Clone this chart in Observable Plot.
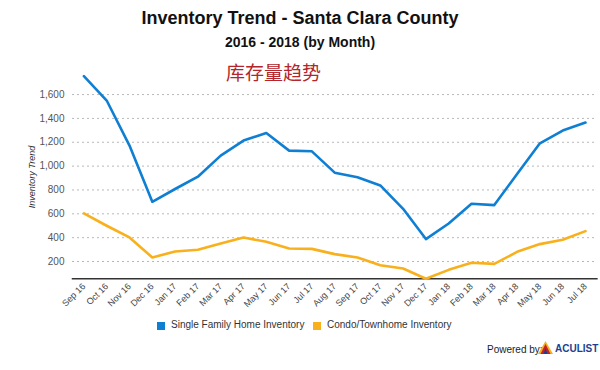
<!DOCTYPE html>
<html>
<head>
<meta charset="utf-8">
<script src="https://cdn.jsdelivr.net/npm/d3@7"></script>
<script src="https://cdn.jsdelivr.net/npm/@observablehq/plot@0.6"></script>
<style>
  html, body { margin: 0; padding: 0; background: #fff; }
  #wrap { position: relative; width: 600px; height: 370px; font-family: "Liberation Sans", Arial, sans-serif; overflow: hidden; }
  .abs { position: absolute; white-space: nowrap; }
  #title { left: 0; width: 600px; top: 8px; text-align: center; font-weight: bold; font-size: 18px; color: #111; }
  #subtitle { left: 0; width: 600px; top: 34px; text-align: center; font-weight: bold; font-size: 14px; color: #111; }
  #cn { left: 226px; top: 62px; font-family: "Noto Sans CJK SC", sans-serif; font-size: 19px; color: #b3262b; line-height: 1; }
  #ylabel { left: 32px; top: 177px; transform: translate(-50%, -50%) rotate(-90deg); font-style: italic; font-size: 9px; color: #333; }
  .sw { position: absolute; width: 8px; height: 8px; top: 322px; }
  .lt { position: absolute; top: 319px; font-size: 10px; color: #333; white-space: nowrap; }
  #powered { left: 487px; top: 344px; font-size: 10px; color: #222; }
  #logo { left: 538px; top: 341px; font-size: 10px; font-weight: bold; color: #1d3f91; }
  #chart { position: absolute; left: 0; top: 0; }
</style>
</head>
<body>
<div id="wrap">
  <div id="chart"></div>
  <div class="abs" id="title">Inventory Trend - Santa Clara County</div>
  <div class="abs" id="subtitle">2016 - 2018 (by Month)</div>
  <div class="abs" id="cn">库存量趋势</div>
  <div class="abs" id="ylabel">Inventory Trend</div>
  <div id="legend"></div>
  <div class="abs" id="powered">Powered by:</div>
  <div class="abs" id="logo"><svg width="15" height="13" viewBox="0 0 15 13" style="vertical-align:-2px;margin-right:2px"><polygon points="7.5,0 15,13 0,13" fill="#f2b01e"/><polygon points="7.5,3 12.5,13 2.5,13" fill="#c8202a"/><polygon points="7.5,7 9.5,13 5.5,13" fill="#1d3f91"/></svg>ACULIST</div>
</div>
<script>
const months = ["Sep 16","Oct 16","Nov 16","Dec 16","Jan 17","Feb 17","Mar 17","Apr 17","May 17","Jun 17","Jul 17","Aug 17","Sep 17","Oct 17","Nov 17","Dec 17","Jan 18","Feb 18","Mar 18","Apr 18","May 18","Jun 18","Jul 18"];
const singleFamily = [1754,1550,1172,701,808,911,1088,1214,1278,1130,1124,945,906,838,642,388,519,684,673,934,1191,1298,1365];
const condo = [603,500,402,234,284,298,351,402,365,309,306,262,234,169,141,55,130,189,180,281,346,382,455];
const seriesNames = ["Single Family Home Inventory","Condo/Townhome Inventory"];
const seriesColors = ["#0f7fd3","#f9b01d"];
const yTicks = [200,400,600,800,1000,1200,1400,1600];

const rows = [];
months.forEach((m, i) => {
  rows.push({i, month: m, value: singleFamily[i], series: seriesNames[0]});
  rows.push({i, month: m, value: condo[i], series: seriesNames[1]});
});
const yMin = d3.min(condo.concat(singleFamily));
const yMax = d3.max(condo.concat(singleFamily));

const chart = Plot.plot({
  width: 600,
  height: 370,
  marginLeft: 72,
  marginRight: 3.6,
  marginTop: 75.7,
  marginBottom: 91.7,
  style: {fontFamily: "Liberation Sans, Arial, sans-serif", background: "transparent", overflow: "visible"},
  x: {type: "linear", domain: [-0.5, months.length - 0.5]},
  y: {domain: [yMin, yMax]},
  color: {domain: seriesNames, range: seriesColors},
  marks: [
    Plot.gridY(yTicks, {stroke: "#b8b8b8", strokeOpacity: 1, strokeDasharray: "2,3", strokeWidth: 1}),
    Plot.axisY(yTicks, {tickSize: 0, tickPadding: 8, tickFormat: d3.format(","), fontSize: 10, fill: "#555", label: null}),
    Plot.axisX(d3.range(months.length), {tickSize: 0, tickPadding: 6, tickRotate: -45, tickFormat: i => months[i], fontSize: 9, fill: "#444", label: null}),
    Plot.frame({anchor: "bottom", stroke: "#333", strokeWidth: 1.5}),
    Plot.line(rows, {x: "i", y: "value", stroke: "series", z: "series", strokeWidth: 2.6, strokeLinejoin: "round"})
  ]
});
document.getElementById("chart").appendChild(chart);

const legend = document.getElementById("legend");
const legendX = [157, 313];
seriesNames.forEach((n, k) => {
  const sw = document.createElement("div");
  sw.className = "sw";
  sw.style.left = legendX[k] + "px";
  sw.style.background = seriesColors[k];
  legend.appendChild(sw);
  const t = document.createElement("div");
  t.className = "lt";
  t.style.left = (legendX[k] + 14) + "px";
  t.textContent = n;
  legend.appendChild(t);
});
</script>
</body>
</html>
